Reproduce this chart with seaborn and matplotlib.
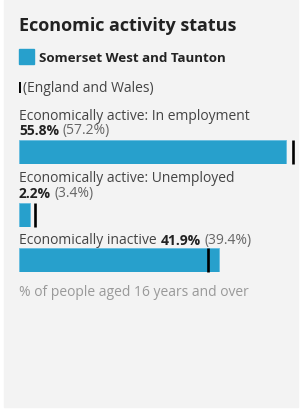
import pandas as pd
import matplotlib.pyplot as plt
import seaborn as sns
from matplotlib.patches import Rectangle

# Data
categories = ["Economically active: In employment",
              "Economically active: Unemployed",
              "Economically inactive"]
area_values = [55.8, 2.2, 41.9]
national_values = [57.2, 3.4, 39.4]
area_name = "Somerset West and Taunton"
comparison_name = "England and Wales"
title = "Economic activity status"
footnote = "% of people aged 16 years and over"

W, H = 302, 411
BLUE = "#27a0cc"

sns.set_theme(style="white")
plt.rcParams["font.family"] = ["Open Sans", "DejaVu Sans"]

fig = plt.figure(figsize=(W / 100, H / 100), dpi=100)
fig.patch.set_facecolor("white")

# overlay axes in pixel coords for the card and all text
bg = fig.add_axes([0, 0, 1, 1])
bg.set_xlim(0, W)
bg.set_ylim(H, 0)
bg.axis("off")
bg.add_patch(Rectangle((4, 0), 294, 407, color="#f3f3f3", zorder=0))


def line_of_text(x, y, pieces, size):
    # pieces: list of (text, weight, colour) drawn one after another on a baseline
    prev = None
    for txt, weight, col in pieces:
        if prev is None:
            prev = bg.text(x, y, txt, fontsize=size, fontweight=weight,
                           color=col, va="baseline", ha="left")
        else:
            prev = bg.annotate(txt, xy=(1, 0), xycoords=prev,
                               xytext=(2.8, 0), textcoords="offset points",
                               fontsize=size, fontweight=weight, color=col,
                               va="bottom", ha="left")
    return prev


bg.text(19, 31, title, fontsize=13, fontweight="bold", color="#222222",
        va="baseline")

# legend
bg.add_patch(Rectangle((19, 49), 15, 15, color=BLUE))
bg.text(39, 61.5, area_name, fontsize=9.6, fontweight="bold", color="#222222",
        va="baseline")
bg.plot([20, 20], [82.5, 93], color="black", lw=1.4, solid_capstyle="butt")
bg.text(23, 92, f"({comparison_name})", fontsize=10, color="#444444",
        va="baseline")

# labels
label_rows = [
    [(120, [(categories[0], "normal", "#444444")]),
     (135, [(f"{area_values[0]}%", "bold", "#222222"),
            (f"({national_values[0]}%)", "normal", "#666666")])],
    [(182.3, [(categories[1], "normal", "#444444")]),
     (198.3, [(f"{area_values[1]}%", "bold", "#222222"),
              (f"({national_values[1]}%)", "normal", "#666666")])],
    [(244.3, [(categories[2], "normal", "#444444"),
              (f"{area_values[2]}%", "bold", "#222222"),
              (f"({national_values[2]}%)", "normal", "#666666")])],
]
for rows in label_rows:
    for y, pieces in rows:
        line_of_text(19, y, pieces, 10)

bg.text(19, 295.7, footnote, fontsize=10, color="#999999", va="baseline")

# bars, one small axes per category
bar_rows = [(140, 164), (202.5, 226.5), (247.5, 271.5)]
px_per_pct = 267 / 55.8
xmax = 60
for i, (top, bottom) in enumerate(bar_rows):
    width_px = xmax * px_per_pct
    ax = fig.add_axes([19 / W, 1 - bottom / H, width_px / W, (bottom - top) / H])
    ax.set_facecolor("none")
    df = pd.DataFrame({"category": [categories[i]], "value": [area_values[i]]})
    sns.barplot(data=df, x="value", y="category", ax=ax, color=BLUE,
                saturation=1, width=1, edgecolor="#66bde0", linewidth=0.6)
    ax.set_xlim(0, xmax)
    ax.set_ylim(0.5, -0.5)
    ax.plot([national_values[i]] * 2, [-0.5, 0.5], color="black", lw=1.9,
            solid_capstyle="butt", clip_on=False)
    ax.axis("off")

fig.savefig("out.png", dpi=100, facecolor="white")
